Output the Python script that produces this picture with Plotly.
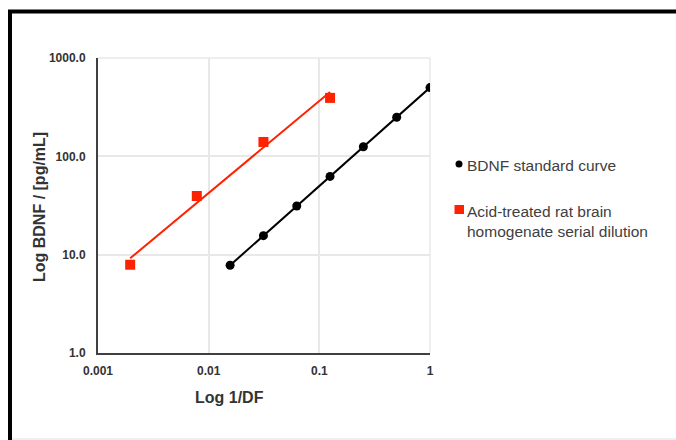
import numpy as np
import plotly.graph_objects as go

# ---- data ----
std_x = [1/64, 1/32, 1/16, 1/8, 1/4, 1/2, 1]
std_y = [7.8, 15.6, 31.25, 62.5, 125, 250, 500]
smp_x = [1/512, 1/128, 1/32, 1/8]
smp_y = [7.9, 39.5, 140, 393]
std_name = "BDNF standard curve"
smp_name = "Acid-treated rat brain<br>homogenate serial dilution"
x_ticks = [0.001, 0.01, 0.1, 1]
x_tick_labels = ["0.001", "0.01", "0.1", "1"]
y_ticks = [1, 10, 100, 1000]
y_tick_labels = ["1.0", "10.0", "100.0", "1000.0"]

RED = "#ff2200"
BLACK = "#000000"

# power-law trendline for sample series (fit in log-log space)
lx = np.log10(smp_x)
ly = np.log10(smp_y)
slope, intercept = np.polyfit(lx, ly, 1)
fit_x = [min(smp_x), max(smp_x)]
fit_y = [10 ** (intercept + slope * np.log10(v)) for v in fit_x]

W, H = 676, 440
L, R, T, B = 98, 430, 58, 353


def px(xp):
    return (xp - L) / (R - L)


def py(yp):
    return (B - yp) / (B - T)


fig = go.Figure()
fig.add_trace(go.Scatter(x=fit_x, y=fit_y, mode="lines",
                         line=dict(color=RED, width=2), showlegend=False,
                         hoverinfo="skip"))
fig.add_trace(go.Scatter(x=smp_x, y=smp_y, mode="markers", name=smp_name,
                         marker=dict(symbol="square", size=10, color=RED),
                         showlegend=False))
fig.add_trace(go.Scatter(x=std_x, y=std_y, mode="lines+markers", name=std_name,
                         line=dict(color=BLACK, width=2),
                         marker=dict(symbol="circle", size=9, color=BLACK),
                         showlegend=False))

axis_common = dict(type="log", showgrid=True, gridcolor="#e8e8e8", gridwidth=1.5,
                   zeroline=False, ticks="", mirror=False,
                   tickfont=dict(family="Liberation Sans, Arial", size=12,
                                 color="#333333", weight="bold"))
fig.update_xaxes(range=[-3, 0], tickvals=x_ticks, ticktext=x_tick_labels,
                 showline=True, linecolor="#404040", linewidth=2,
                 ticklabelstandoff=6, **axis_common)
fig.update_yaxes(range=[0, 3], tickvals=y_ticks, ticktext=y_tick_labels,
                 showline=True, linecolor="#404040", linewidth=2,
                 ticklabelstandoff=8, **axis_common)

shapes = []
# plot top / right grid edges
shapes.append(dict(type="line", xref="paper", yref="paper", x0=0, x1=1, y0=1, y1=1,
                   line=dict(color="#e8e8e8", width=1.5), layer="below"))
shapes.append(dict(type="line", xref="paper", yref="paper", x0=1, x1=1, y0=0, y1=1,
                   line=dict(color="#e8e8e8", width=1.5), layer="below"))
# outer frame
shapes.append(dict(type="line", xref="paper", yref="paper", x0=px(8), x1=px(676),
                   y0=py(11.5), y1=py(11.5), line=dict(color="black", width=4)))
shapes.append(dict(type="line", xref="paper", yref="paper", x0=px(10), x1=px(10),
                   y0=py(10), y1=py(440), line=dict(color="black", width=4)))
shapes.append(dict(type="line", xref="paper", yref="paper", x0=px(12), x1=px(676),
                   y0=py(439), y1=py(439), line=dict(color="#e0e0e0", width=1)))
# legend symbols
shapes.append(dict(type="circle", xref="paper", yref="paper",
                   x0=px(455.5), x1=px(462.5), y0=py(160.5), y1=py(167.5),
                   fillcolor=BLACK, line=dict(width=0)))
shapes.append(dict(type="rect", xref="paper", yref="paper",
                   x0=px(454.5), x1=px(464), y0=py(205), y1=py(214),
                   fillcolor=RED, line=dict(width=0)))

title_font = dict(family="Liberation Sans, Arial", size=16, color="#333333", weight="bold")
leg_font = dict(family="Liberation Sans, Arial", size=15.5, color="#404040")
annotations = [
    dict(text="Log 1/DF", xref="paper", yref="paper", x=px(229), y=py(397),
         showarrow=False, font=title_font, xanchor="center", yanchor="middle"),
    dict(text="Log BDNF / [pg/mL]", xref="paper", yref="paper", x=px(39), y=py(207),
         showarrow=False, font=title_font, textangle=-90,
         xanchor="center", yanchor="middle"),
    dict(text=std_name, xref="paper", yref="paper", x=px(465), y=py(165.5),
         showarrow=False, font=leg_font, xanchor="left", yanchor="middle"),
    dict(text=smp_name, xref="paper", yref="paper", x=px(465), y=py(201),
         showarrow=False, font=leg_font, xanchor="left", yanchor="top", align="left"),
]

fig.update_layout(width=W, height=H, margin=dict(l=L, r=W - R, t=T, b=H - B),
                  paper_bgcolor="white", plot_bgcolor="white",
                  shapes=shapes, annotations=annotations, showlegend=False)

fig.write_html("out.html", config={"displayModeBar": False},
               post_script="document.body.style.margin='0';document.body.style.overflow='hidden';")
